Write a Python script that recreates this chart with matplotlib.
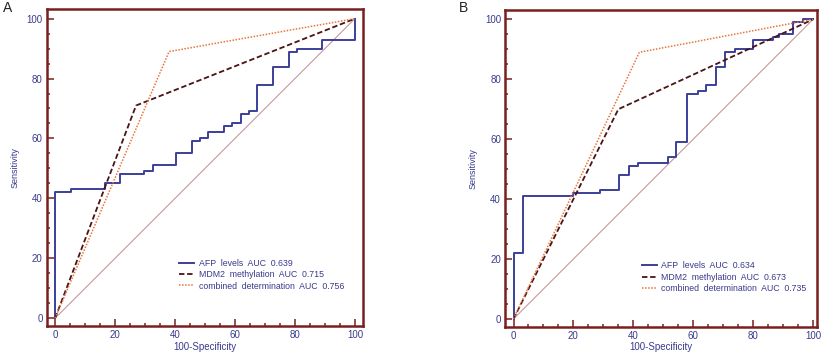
import matplotlib
matplotlib.use('Agg')
import matplotlib.pyplot as plt
from matplotlib.ticker import MultipleLocator

plt.rcParams['font.family'] = ['Liberation Sans', 'DejaVu Sans']

# Panel A - ROC points (100-Specificity, Sensitivity)
afp_a_x = [0, 0, 5.3, 16.7, 21.7, 29.7, 32.6, 40.3, 45.8, 48.3, 51.1, 56.3, 59.1, 61.9, 64.8, 67.3, 72.8, 78.1, 80.6, 89, 100]
afp_a_y = [0, 42, 43, 45, 48, 49, 51, 55, 59, 60, 62, 64, 65, 68, 69, 78, 84, 89, 90, 93, 100]
mdm2_a_x = [0, 27, 100]
mdm2_a_y = [0, 71, 100]
comb_a_x = [0, 38, 100]
comb_a_y = [0, 89, 100]
labels_a = ['AFP  levels  AUC  0.639', 'MDM2  methylation  AUC  0.715', 'combined  determination  AUC  0.756']

# Panel B
afp_b_x = [0, 0, 3.3, 20, 28.9, 35.3, 38.6, 41.7, 51.7, 54.4, 58, 61.5, 64.3, 67.5, 70.6, 74, 80, 86.7, 88.5, 93.3, 96.5, 100]
afp_b_y = [0, 22, 41, 42, 43, 48, 51, 52, 54, 59, 75, 76, 78, 84, 89, 90, 93, 94, 95, 99, 100, 100]
mdm2_b_x = [0, 35, 100]
mdm2_b_y = [0, 70, 100]
comb_b_x = [0, 42, 100]
comb_b_y = [0, 89, 100]
labels_b = ['AFP  levels  AUC  0.634', 'MDM2  methylation  AUC  0.673', 'combined  determination  AUC  0.735']

frame_c = '#7a1f1f'
text_c = '#3a3a8c'

fig = plt.figure(figsize=(8.24, 3.55), dpi=100)
ax_a = fig.add_axes([0.0567, 0.0817, 0.3835, 0.892])
ax_b = fig.add_axes([0.613, 0.0797, 0.3785, 0.892])


def draw_panel(ax, ax_, ay_, mx, my, cx, cy, labels, xlim, legend_pos):
    ax.plot([0, 100], [0, 100], color='#c49a9a', lw=0.8)
    ax.plot(ax_, ay_, color='#3b3f99', lw=1.4, drawstyle='steps-post', label=labels[0])
    ax.plot(mx, my, color='#4a1414', lw=1.3, ls=(0, (3, 1.5)), label=labels[1])
    ax.plot(cx, cy, color='#e8743b', lw=1.1, ls=(0, (1, 1)), label=labels[2])
    ax.set_xlim(*xlim)
    ax.set_ylim(-2.6, 103.1)
    ax.xaxis.set_major_locator(MultipleLocator(20))
    ax.xaxis.set_minor_locator(MultipleLocator(5))
    ax.yaxis.set_major_locator(MultipleLocator(20))
    ax.yaxis.set_minor_locator(MultipleLocator(5))
    ax.tick_params(which='both', direction='in', color=frame_c, width=1.1, labelsize=7, labelcolor=text_c, pad=3)
    ax.tick_params(which='major', length=5)
    ax.tick_params(which='minor', length=2.5)
    for s in ax.spines.values():
        s.set_color(frame_c)
        s.set_linewidth(1.8)
    ax.set_xlabel('100-Specificity', fontsize=7, color=text_c, labelpad=1)
    ax.set_ylabel('Sensitivity', fontsize=6.5, color=text_c, labelpad=5)
    ax.legend(loc='lower left', bbox_to_anchor=legend_pos, frameon=False, fontsize=6.3,
              handlelength=1.7, handletextpad=0.5, labelspacing=0.25, borderpad=0,
              borderaxespad=0, labelcolor=text_c)


draw_panel(ax_a, afp_a_x, afp_a_y, mdm2_a_x, mdm2_a_y, comb_a_x, comb_a_y, labels_a, (-2.8, 102.6), (0.42, 0.112))
draw_panel(ax_b, afp_b_x, afp_b_y, mdm2_b_x, mdm2_b_y, comb_b_x, comb_b_y, labels_b, (-2.8, 101.3), (0.438, 0.107))

fig.text(0.003, 0.965, 'A', fontsize=10, color='#222222')
fig.text(0.557, 0.965, 'B', fontsize=10, color='#222222')

fig.savefig('out.png', dpi=100)
